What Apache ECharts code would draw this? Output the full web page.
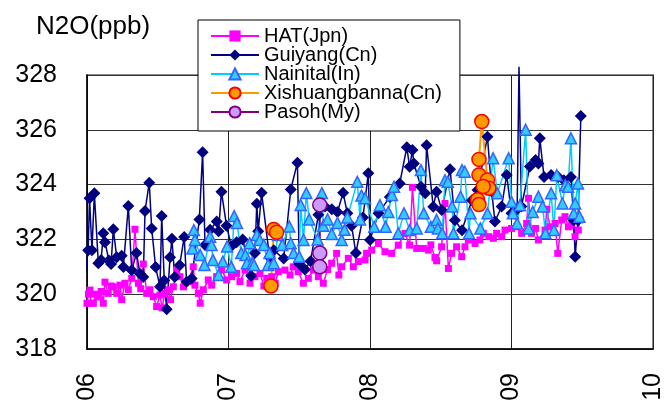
<!DOCTYPE html>
<html>
<head>
<meta charset="utf-8">
<script src="https://cdn.jsdelivr.net/npm/echarts@6/dist/echarts.min.js"></script>
<style>
html,body{margin:0;padding:0;background:#fff;}
#chart{width:669px;height:404px;}
</style>
</head>
<body>
<div id="chart"></div>
<script>
// ---------- DATA ----------
const xTicks = ['06', '07', '08', '09', '10'];
const seriesNames = ['HAT(Jpn)', 'Guiyang(Cn)', 'Nainital(In)', 'Xishuangbanna(Cn)', 'Pasoh(My)'];

const hatYears = [2006.0,2006.01,2006.021,2006.03,2006.045,2006.06,2006.08,2006.1,2006.115,2006.127,2006.15,2006.17,2006.186,2006.21,2006.233,2006.245,2006.268,2006.292,2006.316,2006.339,2006.363,2006.38,2006.398,2006.422,2006.445,2006.469,2006.492,2006.516,2006.53,2006.551,2006.575,2006.59,2006.61,2006.634,2006.657,2006.681,2006.716,2006.751,2006.763,2006.787,2006.80,2006.822,2006.857,2006.881,2006.916,2006.952,2006.987,2007.022,2007.058,2007.081,2007.117,2007.152,2007.187,2007.223,2007.25,2007.27,2007.305,2007.33,2007.352,2007.399,2007.435,2007.458,2007.493,2007.529,2007.564,2007.6,2007.635,2007.67,2007.70,2007.729,2007.764,2007.78,2007.8,2007.847,2007.882,2007.918,2007.965,2007.976,2008.012,2008.059,2008.106,2008.153,2008.2,2008.247,2008.28,2008.30,2008.33,2008.377,2008.412,2008.43,2008.459,2008.471,2008.506,2008.53,2008.554,2008.577,2008.612,2008.648,2008.671,2008.695,2008.742,2008.777,2008.801,2008.84,2008.872,2008.895,2008.931,2008.954,2009.0,2009.036,2009.072,2009.107,2009.12,2009.142,2009.17,2009.19,2009.237,2009.25,2009.272,2009.308,2009.327,2009.355,2009.378,2009.402,2009.425,2009.449,2009.472,2009.484];
const hatValues = [319.67,320.0,320.15,319.67,319.67,320.0,319.9,320.1,319.67,320.44,320.03,320.3,320.27,320.03,320.33,319.8,320.4,320.16,320.58,322.37,320.4,320.2,321.1,320.03,320.16,319.91,319.55,319.97,319.5,320.03,320.16,319.8,320.27,320.88,320.64,320.27,320.46,321.0,320.33,320.03,319.67,320.16,320.52,320.33,320.64,320.88,320.52,320.64,320.76,320.46,320.88,320.4,320.64,320.76,320.3,320.58,320.64,320.4,320.82,320.88,320.7,321.0,320.82,320.4,320.58,320.88,320.64,320.4,320.9,321.13,321.49,320.7,321.0,321.31,321.0,321.19,321.25,321.49,321.61,321.85,321.55,321.49,321.79,322.22,321.79,323.9,321.67,321.67,321.61,321.8,321.34,321.22,321.73,323.31,320.94,321.49,321.73,321.37,321.73,321.98,321.85,321.98,322.22,322.1,322.04,322.22,322.1,322.34,322.4,322.46,322.22,322.58,323.5,322.22,322.4,321.98,322.34,323.1,322.46,322.58,321.49,322.71,322.83,322.46,322.58,322.1,322.34,322.71];

const guiyangYears = [2005.95,2005.975,2006.008,2006.018,2006.035,2006.052,2006.08,2006.10,2006.115,2006.127,2006.155,2006.17,2006.186,2006.21,2006.245,2006.257,2006.292,2006.316,2006.35,2006.374,2006.398,2006.41,2006.44,2006.457,2006.485,2006.516,2006.528,2006.546,2006.563,2006.587,2006.60,2006.62,2006.655,2006.687,2006.704,2006.74,2006.794,2006.817,2006.834,2006.87,2006.917,2006.93,2006.95,2006.986,2007.02,2007.057,2007.10,2007.16,2007.187,2007.20,2007.21,2007.234,2007.29,2007.32,2007.39,2007.44,2007.487,2007.50,2007.54,2007.58,2007.635,2007.682,2007.73,2007.77,2007.81,2007.84,2007.87,2007.90,2007.95,2007.988,2008.0,2008.06,2008.14,2008.21,2008.26,2008.28,2008.30,2008.31,2008.36,2008.39,2008.40,2008.447,2008.47,2008.507,2008.566,2008.60,2008.65,2008.72,2008.76,2008.83,2008.86,2008.883,2008.93,2008.966,2009.0,2009.04,2009.053,2009.07,2009.13,2009.17,2009.19,2009.20,2009.23,2009.28,2009.33,2009.37,2009.42,2009.44,2009.45,2009.47,2009.49];
const guiyangValues = [321.6,320.2,321.6,323.5,321.6,323.68,321.13,321.25,322.22,321.9,321.23,321.1,322.37,321.35,321.4,320.99,323.22,320.87,321.5,320.75,320.63,323.04,324.07,322.4,320.99,320.27,322.85,320.5,319.45,321.35,322.02,320.63,321.06,322.09,320.45,320.57,322.73,325.18,321.8,322.35,322.65,322.3,323.74,322.5,321.75,321.9,322.0,320.67,321.5,323.3,322.3,323.7,321.35,321.6,321.3,323.82,324.8,321.1,320.9,321.2,322.9,323.2,323.1,323.0,323.7,322.95,322.5,321.5,322.8,324.41,321.98,322.95,323.55,324.04,325.36,324.65,325.26,324.77,323.92,323.68,325.44,323.19,323.74,323.07,324.56,322.7,322.33,323.43,323.8,325.75,323.75,322.65,323.2,324.35,322.95,323.1,328.3,323.2,324.66,324.9,324.77,325.69,324.28,324.35,324.28,324.16,324.28,322.7,321.37,322.7,326.5];

const nainitalYears = [2006.745,2006.755,2006.763,2006.80,2006.83,2006.87,2006.88,2006.89,2006.93,2006.96,2006.99,2007.02,2007.04,2007.06,2007.09,2007.12,2007.13,2007.15,2007.17,2007.18,2007.20,2007.22,2007.25,2007.28,2007.29,2007.32,2007.35,2007.38,2007.43,2007.44,2007.46,2007.50,2007.51,2007.53,2007.55,2007.57,2007.63,2007.66,2007.67,2007.70,2007.73,2007.77,2007.80,2007.82,2007.84,2007.91,2007.93,2007.94,2007.965,2008.03,2008.07,2008.11,2008.13,2008.155,2008.17,2008.20,2008.24,2008.28,2008.33,2008.36,2008.38,2008.43,2008.47,2008.48,2008.51,2008.53,2008.55,2008.58,2008.59,2008.64,2008.65,2008.67,2008.70,2008.71,2008.78,2008.83,2008.87,2008.90,2008.98,2009.0,2009.01,2009.04,2009.06,2009.10,2009.12,2009.15,2009.19,2009.22,2009.24,2009.28,2009.30,2009.32,2009.36,2009.38,2009.40,2009.42,2009.44,2009.45,2009.47,2009.48];
const nainitalValues = [321.67,322.34,321.98,321.43,321.07,322.1,321.8,321.25,320.7,321.19,321.74,321.0,322.85,322.6,321.5,321.43,321.13,321.86,321.13,321.07,322.16,321.98,321.8,321.07,321.5,321.13,322.16,321.8,322.47,321.86,321.5,321.37,323.26,321.98,323.69,322.73,322.0,323.69,322.5,322.73,322.2,322.6,321.98,322.35,322.8,324.1,322.73,323.6,323.5,322.46,323.25,322.46,323.0,323.62,323.92,322.22,322.95,322.34,322.4,324.53,322.95,322.46,322.71,322.4,322.22,324.16,324.1,323.2,322.22,323.56,324.53,324.47,322.22,322.95,322.4,322.95,324.96,323.68,324.96,323.37,322.95,322.58,323.25,326.0,322.4,323.0,323.56,323.2,322.22,323.68,322.34,324.34,323.31,323.98,323.92,325.69,322.95,323.31,324.04,322.83];

const xishuangYears = [2007.30,2007.32,2007.34,2008.0,2008.76,2008.77,2008.77,2008.77,2008.79,2008.83,2008.84,2008.80];
const xishuangValues = [320.3,322.36,322.26,null,323.45,323.27,324.35,324.92,326.3,324.17,323.87,323.93];

const pasohYears = [2007.645,2007.645,2007.645];
const pasohValues = [323.26,321.5,321.0];

// ---------- BUILD ----------
const X_MIN = 2006, X_MAX = 2010, Y_MIN = 318, Y_MAX = 328;
function pairs(xs, ys) {
  return xs.map((x, i) => [x, ys[i] === null ? '-' : ys[i]]);
}
// points outside the plot keep their line but show no marker
function pairsHideOutside(xs, ys) {
  return xs.map((x, i) => {
    const y = ys[i];
    const outside = x < X_MIN || x > X_MAX || y > Y_MAX || y < Y_MIN;
    return outside ? {value: [x, y], symbol: 'none'} : [x, y];
  });
}
const FONT = '"Liberation Sans", Arial, sans-serif';

const chart = echarts.init(document.getElementById('chart'), null, {renderer: 'canvas'});
chart.setOption({
  animation: false,
  backgroundColor: '#fff',
  textStyle: {fontFamily: FONT, color: '#000'},
  title: {
    text: 'N2O(ppb)', left: 31, top: 9,
    textStyle: {fontFamily: FONT, fontSize: 26, fontWeight: 'normal', color: '#000'}
  },
  legend: {
    orient: 'vertical',
    left: 198, top: 20,
    padding: [6, 18, 9, 12],
    itemWidth: 48, itemHeight: 14, itemGap: -1,
    backgroundColor: '#fff',
    borderColor: '#000', borderWidth: 1,
    textStyle: {fontFamily: FONT, fontSize: 20, color: '#000'},
    data: seriesNames
  },
  grid: {
    left: 87, right: 16, top: 75, bottom: 55,
    show: true, borderColor: '#8a8a8a', borderWidth: 2, backgroundColor: 'transparent'
  },
  xAxis: {
    type: 'value', min: X_MIN, max: X_MAX, interval: 1,
    axisLine: {show: true, onZero: false, lineStyle: {color: '#000', width: 1.5}},
    axisTick: {show: false},
    splitLine: {show: true, lineStyle: {color: '#222', width: 1}},
    axisLabel: {
      rotate: 90, margin: 24, fontSize: 25, fontFamily: FONT, color: '#000',
      formatter: v => xTicks[Math.round(v - X_MIN)]
    }
  },
  yAxis: {
    type: 'value', min: Y_MIN, max: Y_MAX, interval: 2,
    axisLine: {show: true, onZero: false, lineStyle: {color: '#000', width: 1.5}},
    axisTick: {show: false},
    splitLine: {show: true, lineStyle: {color: '#333', width: 1}},
    axisLabel: {margin: 30, fontSize: 25, fontFamily: FONT, color: '#000'}
  },
  series: [
    {
      name: seriesNames[0], type: 'line', data: pairs(hatYears, hatValues),
      symbol: 'rect', symbolSize: 7, showAllSymbol: true,
      lineStyle: {color: '#ff00ff', width: 1.5},
      itemStyle: {color: '#ff00ff'}
    },
    {
      name: seriesNames[1], type: 'line', data: pairsHideOutside(guiyangYears, guiyangValues),
      symbol: 'diamond', symbolSize: 12, showAllSymbol: true, clip: false,
      lineStyle: {color: '#000080', width: 1.5},
      itemStyle: {color: '#000080'}
    },
    {
      name: seriesNames[2], type: 'line', data: pairs(nainitalYears, nainitalValues),
      symbol: 'triangle', symbolSize: 11, showAllSymbol: true,
      lineStyle: {color: '#00ccff', width: 1.5},
      itemStyle: {color: '#33ccff', borderColor: '#3366ff', borderWidth: 1.5}
    },
    {
      name: seriesNames[3], type: 'line', data: pairs(xishuangYears, xishuangValues),
      symbol: 'circle', symbolSize: 14, showAllSymbol: true, connectNulls: false,
      lineStyle: {color: '#ff9900', width: 2},
      itemStyle: {color: '#ff9900', borderColor: '#ff0000', borderWidth: 1.5}
    },
    {
      name: seriesNames[4], type: 'line', data: pairs(pasohYears, pasohValues),
      symbol: 'circle', symbolSize: 14, showAllSymbol: true,
      lineStyle: {color: '#800080', width: 2},
      itemStyle: {color: '#cc99ff', borderColor: '#800080', borderWidth: 1.5}
    }
  ]
});
</script>
</body>
</html>
